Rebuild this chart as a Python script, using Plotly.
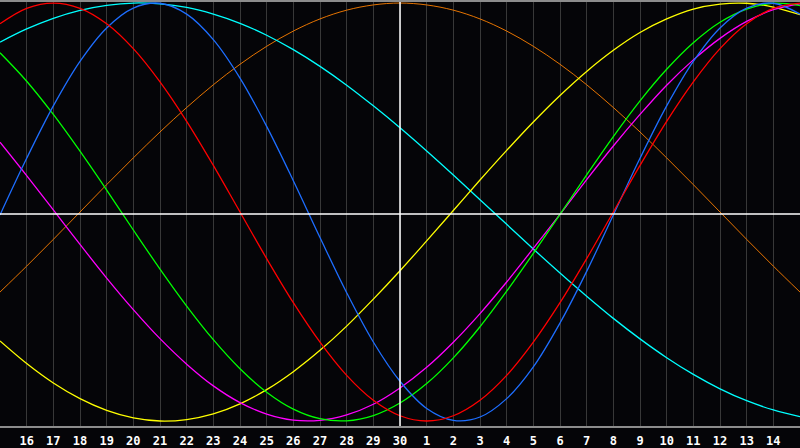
import plotly.graph_objects as go

# day labels under the grid lines (last half of one month, first half of the next)
day_labels = [str(d) for d in range(16, 31)] + [str(d) for d in range(1, 15)]
# sample positions: one per day column, from the left edge to the right edge
days = list(range(0, 31))

# curve values, one value per day column
red = [0.901, 0.975, 1.000, 0.975, 0.901, 0.782, 0.623, 0.434, 0.223, 0.000,
       -0.223, -0.434, -0.623, -0.782, -0.901, -0.975, -1.000, -0.975, -0.901,
       -0.782, -0.623, -0.434, -0.223, 0.000, 0.223, 0.434, 0.623, 0.782,
       0.901, 0.975, 1.000]
blue = [-0.014, 0.257, 0.508, 0.721, 0.881, 0.976, 0.999, 0.947, 0.825, 0.641,
        0.410, 0.150, -0.122, -0.386, -0.622, -0.810, -0.940, -0.997, -0.981,
        -0.893, -0.741, -0.531, -0.284, -0.014, 0.257, 0.508, 0.721, 0.881,
        0.976, 0.999, 0.947]
green = [0.762, 0.626, 0.467, 0.291, 0.105, -0.086, -0.273, -0.450, -0.611,
         -0.750, -0.862, -0.943, -0.989, -0.999, -0.974, -0.914, -0.821,
         -0.698, -0.549, -0.379, -0.198, -0.011, 0.178, 0.361, 0.532, 0.683,
         0.810, 0.908, 0.971, 0.999, 0.988]
cyan = [0.813, 0.876, 0.927, 0.965, 0.989, 1.000, 0.996, 0.979, 0.947, 0.903,
        0.846, 0.777, 0.697, 0.607, 0.508, 0.403, 0.292, 0.177, 0.059, -0.059,
        -0.177, -0.292, -0.403, -0.509, -0.607, -0.697, -0.777, -0.846,
        -0.903, -0.947, -0.979]
orange = [-0.383, -0.259, -0.131, 0.000, 0.131, 0.259, 0.383, 0.500, 0.609,
          0.707, 0.793, 0.866, 0.924, 0.966, 0.991, 1.000, 0.991, 0.966, 0.924,
          0.866, 0.793, 0.707, 0.609, 0.500, 0.383, 0.259, 0.131, 0.000,
          -0.131, -0.259, -0.383]
yellow = [-0.617, -0.725, -0.818, -0.893, -0.949, -0.985, -1.000, -0.993,
          -0.966, -0.918, -0.850, -0.764, -0.662, -0.546, -0.417, -0.281,
          -0.138, 0.007, 0.153, 0.295, 0.431, 0.558, 0.673, 0.774, 0.859,
          0.924, 0.971, 0.995, 0.999, 0.981, 0.944]
magenta = [0.334, 0.174, 0.010, -0.155, -0.316, -0.467, -0.606, -0.728,
           -0.832, -0.912, -0.967, -0.996, -0.997, -0.971, -0.920, -0.842,
           -0.743, -0.623, -0.486, -0.335, -0.174, -0.011, 0.155, 0.316, 0.467,
           0.607, 0.728, 0.831, 0.912, 0.968, 0.996]

series = [
    ("orange", orange, "#FF8000", 0.9),
    ("cyan", cyan, "#00FFFF", 1.3),
    ("yellow", yellow, "#FFFF00", 1.3),
    ("magenta", magenta, "#FF00FF", 1.3),
    ("green", green, "#00FF00", 1.3),
    ("blue", blue, "#1E6EFF", 1.3),
    ("red", red, "#FF0000", 1.3),
]

fig = go.Figure()
for name, vals, col, w in series:
    fig.add_trace(go.Scatter(x=days, y=vals, mode="lines", name=name,
                             line=dict(color=col, width=w, shape="spline"),
                             hoverinfo="skip"))

# white centre lines (today marker and zero line)
fig.add_shape(type="line", xref="x", yref="paper", x0=15, x1=15, y0=0, y1=1,
              line=dict(color="white", width=1.5), layer="above")
fig.add_shape(type="line", xref="paper", yref="paper", x0=0, x1=1, y0=0.5, y1=0.5,
              line=dict(color="white", width=1.5), layer="above")

fig.update_layout(
    width=800, height=448,
    margin=dict(l=0, r=0, t=0, b=20),
    paper_bgcolor="#050508", plot_bgcolor="#050508",
    showlegend=False,
    xaxis=dict(range=[0, 30], tickvals=list(range(1, 30)), ticktext=day_labels,
               showgrid=True, gridcolor="#383838", gridwidth=1,
               zeroline=False, showline=True, linecolor="#8C8C8C", linewidth=2,
               mirror=True, ticks="", ticklabelstandoff=3,
               tickfont=dict(family="DejaVu Sans Mono", size=12, color="white",
                             weight="bold")),
    yaxis=dict(range=[-1.024, 1.005], showgrid=False, zeroline=False,
               showticklabels=False, showline=True, linecolor="#8C8C8C",
               linewidth=2, ticks=""),
)

# page body margin would push the figure off the 800x448 window
fig.write_html("out.html", config={"displayModeBar": False},
               post_script="document.body.style.margin='0px';document.body.style.background='#050508';")
